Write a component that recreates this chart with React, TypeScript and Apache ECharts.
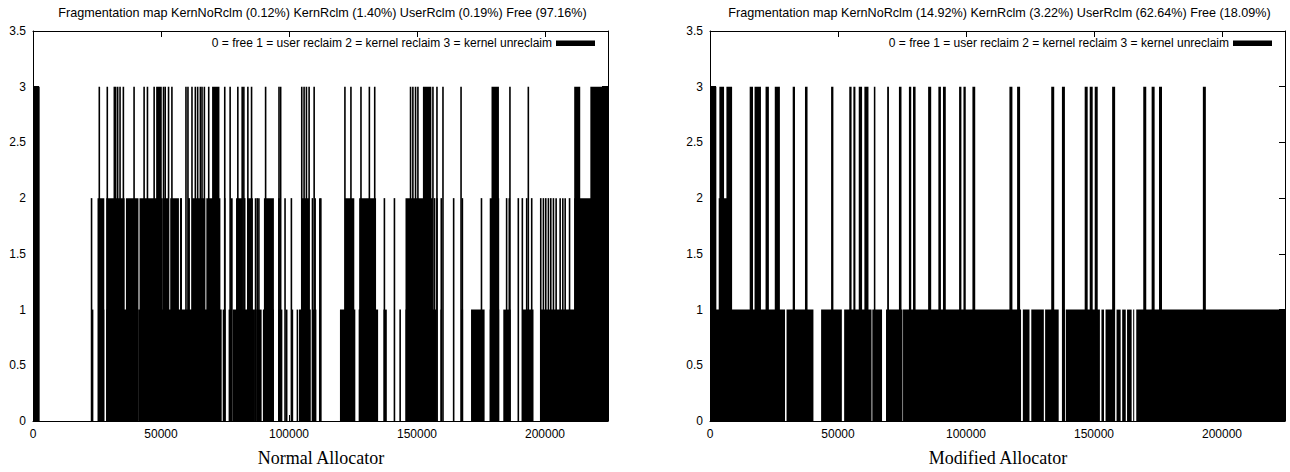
import React, { useEffect, useRef } from 'react';
import * as echarts from 'echarts';

// ---------- data ----------
const X_MAX = 224600;
const X_INTERVAL = 50000;
const Y_MAX = 3.5;
const Y_INTERVAL = 0.5;

const titles = [
  'Fragmentation map KernNoRclm (0.12%) KernRclm (1.40%) UserRclm (0.19%) Free (97.16%)',
  'Fragmentation map KernNoRclm (14.92%) KernRclm (3.22%) UserRclm (62.64%) Free (18.09%)',
];
const legendText = '0 = free 1 = user reclaim 2 = kernel reclaim 3 = kernel unreclaim';
const captions = ['Normal Allocator', 'Modified Allocator'];

// Normal allocator: runs [startPage, endPage] and single impulses, per level
const normalL3Blocks = [[0, 2600], [48100, 50300], [69950, 72830], [152300, 155600], [179100, 182000], [211400, 213750], [217700, 224600]];
const normalL3Spikes = [25900, 29020, 31770, 32290, 33080, 34000, 35300, 39480, 43400, 44710, 47320, 50990, 51640, 52950, 54260, 59750, 60530, 62100, 63410, 64320, 65370, 66020, 66940, 68640, 74900, 77000, 80010, 81710, 82360, 83930, 85370, 90860, 96090, 96740, 104980, 105890, 106810, 107850, 109820, 121840, 124190, 128110, 131390, 133480, 147470, 148380, 149430, 150350, 156220, 157790, 160140, 167200, 186300, 193480];
const normalL2Blocks = [[25200, 27850], [28600, 35800], [36300, 41200], [41600, 50700], [51100, 52900], [53600, 57000], [57400, 58200], [60500, 61300], [62100, 67300], [67700, 73200], [77100, 78000], [79300, 81700], [82300, 83000], [83600, 85900], [90200, 94100], [105000, 107900], [121800, 125500], [127400, 134000], [145500, 156200], [178400, 182100], [211400, 224600]];
const normalL2Spikes = [22870, 74900, 86930, 87590, 88240, 96090, 98450, 100930, 109160, 110200, 112040, 112430, 137260, 141180, 156870, 157790, 159480, 164310, 167720, 175180, 185000, 186040, 189570, 191140, 192840, 194800, 198330, 199370, 200290, 201330, 202250, 203290, 204340, 205910, 206950, 207870, 209580];
const normalL1Blocks = [[25400, 27850], [28600, 31800], [32300, 36800], [37200, 40700], [41100, 49900], [50300, 54100], [54500, 63200], [63700, 73700], [74100, 75200], [76400, 77600], [78000, 86700], [87200, 89300], [89800, 94100], [95800, 97400], [98700, 99400], [103900, 108500], [109100, 110700], [111700, 112400], [119900, 125900], [127200, 134800], [136900, 138200], [145500, 157500], [167200, 168000], [171100, 176400], [178400, 182100], [183700, 186600], [191300, 195500], [198300, 224600]];
const normalL1Spikes = [23270, 101320, 103280, 143410, 159480];

// Modified allocator
const modL3Blocks = [[0, 2480], [3660, 5490], [6410, 8630], [15500, 16800], [17400, 19900], [21700, 23000], [25300, 27300], [32300, 33200], [37100, 38100], [47300, 48200], [54400, 55300], [56000, 56800], [58100, 59400], [60300, 61900], [64000, 64600], [69200, 69900], [73800, 74800], [77700, 78600], [79300, 80300], [85200, 86400], [89200, 90200], [91000, 92100], [97300, 98200], [99000, 99900], [102500, 103600]];
const modL3Spikes = [117540, 120540, 133870, 138050, 146940, 148900, 150860, 157660, 169820, 173090, 175970, 193100];
const modL2Blocks = [[3400, 8370]];
const modL1Blocks = [[0, 29300], [29900, 40400], [43400, 51500], [52400, 63100], [63400, 67200], [68750, 75200], [75400, 121500], [122200, 124800], [125500, 130400], [130900, 136200], [137500, 138700], [139000, 152300], [152900, 153900], [154500, 158200], [158800, 160400], [161000, 162400], [162900, 164700], [165300, 165700], [166500, 224600]];

// ---------- helpers ----------
function buildItems(blocks: number[][][], spikes: number[][], spikeW: number) {
  const items: number[][] = [];
  blocks.forEach((list, i) => {
    const level = 3 - i;
    list.forEach(([s, e]) => items.push([s, e, level, 1]));
  });
  spikes.forEach((list, i) => {
    const level = 3 - i;
    list.forEach((x) => items.push([x, x, level, spikeW]));
  });
  return items;
}

const normalItems = buildItems([normalL3Blocks, normalL2Blocks, normalL1Blocks], [normalL3Spikes, normalL2Spikes, normalL1Spikes], 1.6);
const modItems = buildItems([modL3Blocks, modL2Blocks, modL1Blocks], [modL3Spikes, [], []], 3);

const SANS = 'Liberation Sans, Arial, Helvetica, sans-serif';
const SERIF = 'Liberation Serif, Times New Roman, serif';

const GRID_LEFT = [33, 710];
const GRID_TOP = 31;
const GRID_W = 575;
const GRID_H = 390;

export default function App() {
  const ref = useRef<HTMLDivElement>(null);
  useEffect(() => {
    if (!ref.current) return;
    const chart = echarts.init(ref.current, null, { renderer: 'svg' });

    const xAxes: any[] = [];
    const yAxes: any[] = [];
    [0, 1].forEach((g) => {
      const common = {
        gridIndex: g,
        type: 'value',
        splitLine: { show: false },
        axisLine: { show: true, onZero: false, lineStyle: { color: '#000', width: 1 } },
        axisTick: { show: true, inside: true, length: 6, lineStyle: { color: '#000', width: 1 } },
      };
      xAxes.push({
        ...common, min: 0, max: X_MAX, interval: X_INTERVAL, position: 'bottom',
        axisLabel: { color: '#000', fontSize: 12, fontFamily: SANS, margin: 7, showMaxLabel: false, formatter: (v: number) => String(v) },
      });
      xAxes.push({
        ...common, min: 0, max: X_MAX, interval: X_INTERVAL, position: 'top',
        axisLabel: { show: false },
      });
      yAxes.push({
        ...common, min: 0, max: Y_MAX, interval: Y_INTERVAL, position: 'left',
        axisLabel: { color: '#000', fontSize: 12, fontFamily: SANS, margin: 7, formatter: (v: number) => String(v) },
      });
      yAxes.push({
        ...common, min: 0, max: Y_MAX, interval: Y_INTERVAL, position: 'right',
        axisLabel: { show: false },
      });
    });

    const renderItem = (params: any, api: any) => {
      const s = api.value(0);
      const e = api.value(1);
      const lv = api.value(2);
      const minW = api.value(3);
      const p0 = api.coord([s, 0]);
      const p1 = api.coord([e, lv]);
      let x0 = p0[0];
      let w = p1[0] - p0[0];
      if (w < minW) {
        const c = (p0[0] + p1[0]) / 2;
        x0 = c - minW / 2;
        w = minW;
      }
      return {
        type: 'rect',
        shape: { x: x0, y: p1[1], width: w, height: p0[1] - p1[1] },
        style: { fill: '#000' },
      };
    };

    const graphics: any[] = [];
    [0, 1].forEach((g) => {
      const left = GRID_LEFT[g];
      const right = left + GRID_W;
      graphics.push({
        type: 'text', x: left + GRID_W / 2 + 2, y: 13,
        style: { text: titles[g], fill: '#000', fontSize: 12.6, fontFamily: SANS, align: 'center', verticalAlign: 'middle', textAlign: 'center', textVerticalAlign: 'middle' },
      });
      graphics.push({
        type: 'text', x: right - 56, y: 43,
        style: { text: legendText, fill: '#000', fontSize: 12, fontFamily: SANS, align: 'right', verticalAlign: 'middle', textAlign: 'right', textVerticalAlign: 'middle' },
      });
      graphics.push({
        type: 'rect', shape: { x: right - 52, y: 40.5, width: 39, height: 5.5 },
        style: { fill: '#000' },
      });
      graphics.push({
        type: 'text', x: g === 0 ? 321 : 998, y: 458,
        style: { text: captions[g], fill: '#000', fontSize: 18, fontFamily: SERIF, align: 'center', verticalAlign: 'middle', textAlign: 'center', textVerticalAlign: 'middle' },
      });
    });

    chart.setOption({
      animation: false,
      backgroundColor: '#fff',
      grid: [0, 1].map((g) => ({ left: GRID_LEFT[g], top: GRID_TOP, width: GRID_W, height: GRID_H, containLabel: false })),
      xAxis: xAxes,
      yAxis: yAxes,
      series: [
        { type: 'custom', xAxisIndex: 0, yAxisIndex: 0, clip: true, renderItem, encode: { x: [0, 1], y: 2 }, data: normalItems, silent: true },
        { type: 'custom', xAxisIndex: 2, yAxisIndex: 2, clip: true, renderItem, encode: { x: [0, 1], y: 2 }, data: modItems, silent: true },
      ],
      graphic: graphics,
    });
    return () => chart.dispose();
  }, []);
  return <div ref={ref} style={{ position: 'absolute', left: 0, top: 0, width: 1290, height: 472 }} />;
}
